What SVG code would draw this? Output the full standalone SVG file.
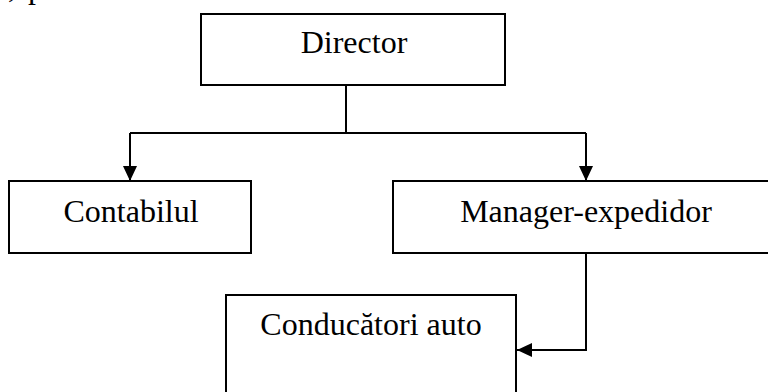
<svg xmlns="http://www.w3.org/2000/svg" width="768" height="392" viewBox="0 0 768 392">
<style>
.box{fill:#fff;stroke:#000;stroke-width:2}
.lbl{font-family:"Liberation Serif","Times New Roman",serif;font-size:32px;fill:#000}
.con{fill:none;stroke:#000;stroke-width:2}
</style>
<defs>
<marker id="ah" markerUnits="userSpaceOnUse" markerWidth="16" markerHeight="16" viewBox="0 0 16 16" refX="15" refY="8" orient="auto">
<path d="M0,1 L15,8 L0,15 Z" fill="#000"/>
</marker>
</defs>
<rect width="768" height="392" fill="#fff"/>
<text class="lbl" x="8" y="-3">,</text>
<text class="lbl" x="28" y="-2">p</text>
<g id="director">
<rect class="box" x="201" y="14" width="304" height="71"/>
<text class="lbl" x="354" y="53" text-anchor="middle">Director</text>
</g>
<g id="contabilul">
<rect class="box" x="9" y="181" width="242" height="72"/>
<text class="lbl" x="131" y="222" text-anchor="middle">Contabilul</text>
</g>
<g id="manager">
<rect class="box" x="393" y="181" width="380" height="72"/>
<text class="lbl" x="586" y="222" text-anchor="middle">Manager-expedidor</text>
</g>
<g id="conducatori">
<rect class="box" x="226" y="295" width="290" height="110"/>
<text class="lbl" x="371" y="335" text-anchor="middle">Conducători auto</text>
</g>
<g id="connectors">
<path class="con" d="M346,85 V133"/>
<path class="con" d="M130,133 H586"/>
<path class="con" d="M130,133 V181" marker-end="url(#ah)"/>
<path class="con" d="M586,133 V181" marker-end="url(#ah)"/>
<path class="con" d="M586,253 V350 H517" marker-end="url(#ah)"/>
</g>
</svg>
